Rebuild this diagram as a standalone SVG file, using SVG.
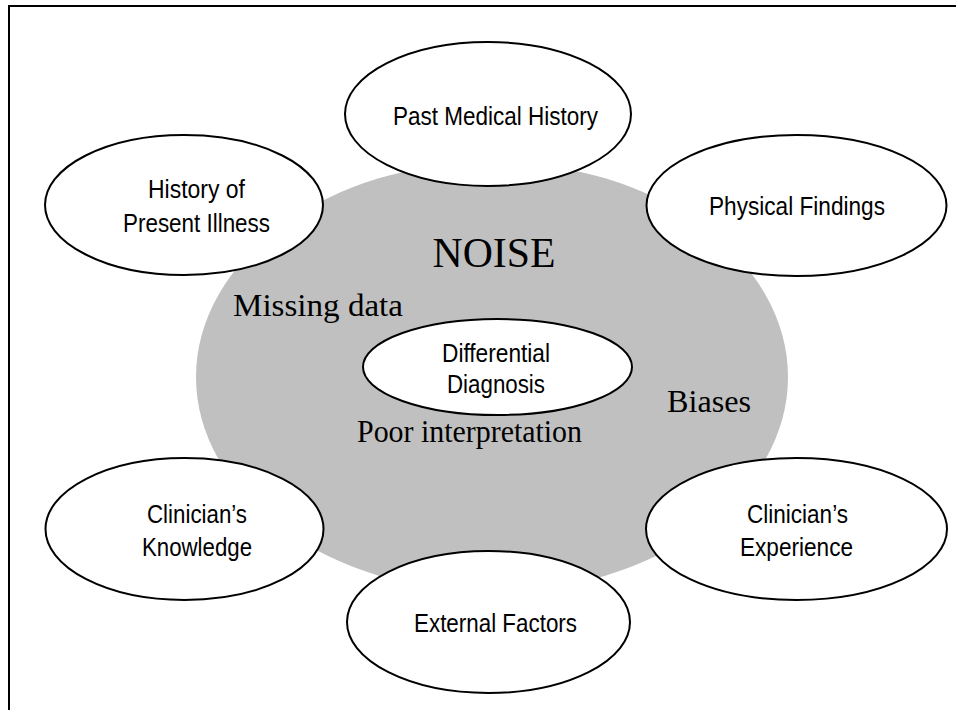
<svg xmlns="http://www.w3.org/2000/svg" width="956" height="710" viewBox="0 0 956 710">
<style>
.node{fill:#ffffff;stroke:#000000;stroke-width:2}
.lbl{font-family:"Liberation Sans",Arial,sans-serif;font-size:25.5px;fill:#000;text-anchor:middle}
.serif{font-family:"Liberation Serif","Times New Roman",serif;fill:#000}
</style>
<rect x="0" y="0" width="956" height="710" fill="#ffffff"/>
<rect x="9" y="6" width="960" height="720" fill="none" stroke="#000" stroke-width="2"/>
<g id="noise">
<ellipse cx="492" cy="377" rx="296" ry="215" fill="#c0c0c0"/>
<text class="serif" x="494" y="267" font-size="42" text-anchor="middle" textLength="123" lengthAdjust="spacingAndGlyphs">NOISE</text>
<text class="serif" x="233" y="316" font-size="31" textLength="170" lengthAdjust="spacingAndGlyphs">Missing data</text>
<text class="serif" x="667" y="412" font-size="31" textLength="84" lengthAdjust="spacingAndGlyphs">Biases</text>
<text class="serif" x="357" y="442" font-size="31" textLength="225" lengthAdjust="spacingAndGlyphs">Poor interpretation</text>
</g>
<g id="connectors"/>
<g id="past-medical-history">
<ellipse class="node" cx="488" cy="114" rx="143" ry="72"/>
<text class="lbl" x="495.5" y="125" textLength="205" lengthAdjust="spacingAndGlyphs">Past Medical History</text>
</g>
<g id="history-present-illness">
<ellipse class="node" cx="184" cy="205" rx="139" ry="70"/>
<text class="lbl" x="196.5" y="198" textLength="97" lengthAdjust="spacingAndGlyphs">History of</text>
<text class="lbl" x="196.5" y="232" textLength="147" lengthAdjust="spacingAndGlyphs">Present Illness</text>
</g>
<g id="physical-findings">
<ellipse class="node" cx="796.5" cy="205.5" rx="150" ry="70.5"/>
<text class="lbl" x="797" y="215" textLength="176" lengthAdjust="spacingAndGlyphs">Physical Findings</text>
</g>
<g id="differential-diagnosis">
<ellipse class="node" cx="497.5" cy="367" rx="134.5" ry="48"/>
<text class="lbl" x="496" y="362" textLength="108" lengthAdjust="spacingAndGlyphs">Differential</text>
<text class="lbl" x="496" y="393" textLength="98" lengthAdjust="spacingAndGlyphs">Diagnosis</text>
</g>
<g id="clinicians-knowledge">
<ellipse class="node" cx="184.5" cy="529" rx="139" ry="71"/>
<text class="lbl" x="197" y="523" textLength="100" lengthAdjust="spacingAndGlyphs">Clinician’s</text>
<text class="lbl" x="197" y="556" textLength="110" lengthAdjust="spacingAndGlyphs">Knowledge</text>
</g>
<g id="clinicians-experience">
<ellipse class="node" cx="796.5" cy="529" rx="150.5" ry="71"/>
<text class="lbl" x="797.5" y="523" textLength="101" lengthAdjust="spacingAndGlyphs">Clinician’s</text>
<text class="lbl" x="796.5" y="556" textLength="113" lengthAdjust="spacingAndGlyphs">Experience</text>
</g>
<g id="external-factors">
<ellipse class="node" cx="488.5" cy="622" rx="141.5" ry="71"/>
<text class="lbl" x="495.5" y="632" textLength="163" lengthAdjust="spacingAndGlyphs">External Factors</text>
</g>
</svg>
